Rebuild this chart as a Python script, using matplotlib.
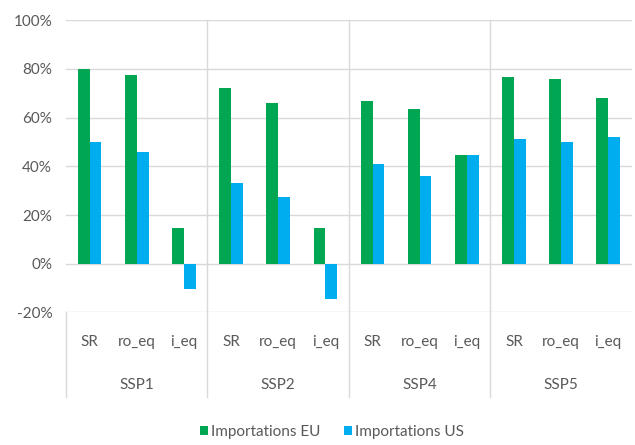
import numpy as np
import matplotlib
matplotlib.use("Agg")
import matplotlib.pyplot as plt
from matplotlib.ticker import PercentFormatter

plt.rcParams['font.family'] = ['Lato', 'DejaVu Sans']
plt.rcParams['axes.unicode_minus'] = False

scenarios = ['SSP1', 'SSP2', 'SSP4', 'SSP5']
variants = ['SR', 'ro_eq', 'i_eq']
import_eu = [80, 77.5, 14.6, 72, 66, 14.6, 67, 63.5, 44.5, 76.8, 76, 68.2]
import_us = [50, 45.8, -10.2, 33, 27.4, -14.3, 41, 36, 44.5, 51.3, 50, 52]

green = '#00A651'
blue = '#00AEEF'
grid_col = '#d9d9d9'
txt_col = '#595959'
fs = 11

fig = plt.figure(figsize=(6.35, 4.45), dpi=100)
ax = fig.add_axes([0.104, 0.2978, 0.891, 0.657])

x = np.arange(len(import_eu))
w = 0.25
eu = np.array(import_eu) / 100
us = np.array(import_us) / 100
ax.bar(x - w / 2, eu, w, color=green, label='Importations EU', zorder=3)
ax.bar(x + w / 2, us, w, color=blue, label='Importations US', zorder=3)

ax.set_xlim(-0.5, len(x) - 0.5)
ax.set_ylim(-0.2, 1.0)
ax.set_yticks(np.arange(-0.2, 1.01, 0.2))
ax.yaxis.set_major_formatter(PercentFormatter(1.0, decimals=0))
ax.tick_params(axis='y', length=0, pad=10, labelsize=fs, labelcolor=txt_col)
ax.set_xticks([])
ax.grid(axis='y', color=grid_col, linewidth=1, zorder=0)
for s in ax.spines.values():
    s.set_visible(False)

# group separators running down through the category labels
trans = ax.get_xaxis_transform()
for b in [2.5, 5.5, 8.5]:
    ax.plot([b, b], [1.0, -0.288], transform=trans, color=grid_col,
            linewidth=1, clip_on=False, zorder=1)
ax.plot([-0.5, -0.5], [0, -0.288], transform=trans, color=grid_col,
        linewidth=1, clip_on=False, zorder=1)

for i in x:
    ax.text(i, -0.101, variants[i % 3], transform=trans, ha='center',
            va='center', fontsize=fs, color=txt_col)
for g, name in enumerate(scenarios):
    ax.text(3 * g + 1, -0.248, name, transform=trans, ha='center',
            va='center', fontsize=fs, color=txt_col)

fig.legend(loc='center', bbox_to_anchor=(0.523, 0.029), ncol=2,
           frameon=False, handlelength=0.55, handleheight=0.55,
           handletextpad=0.2, columnspacing=1.5, fontsize=fs,
           labelcolor=txt_col)

fig.savefig('out.png', dpi=100)
